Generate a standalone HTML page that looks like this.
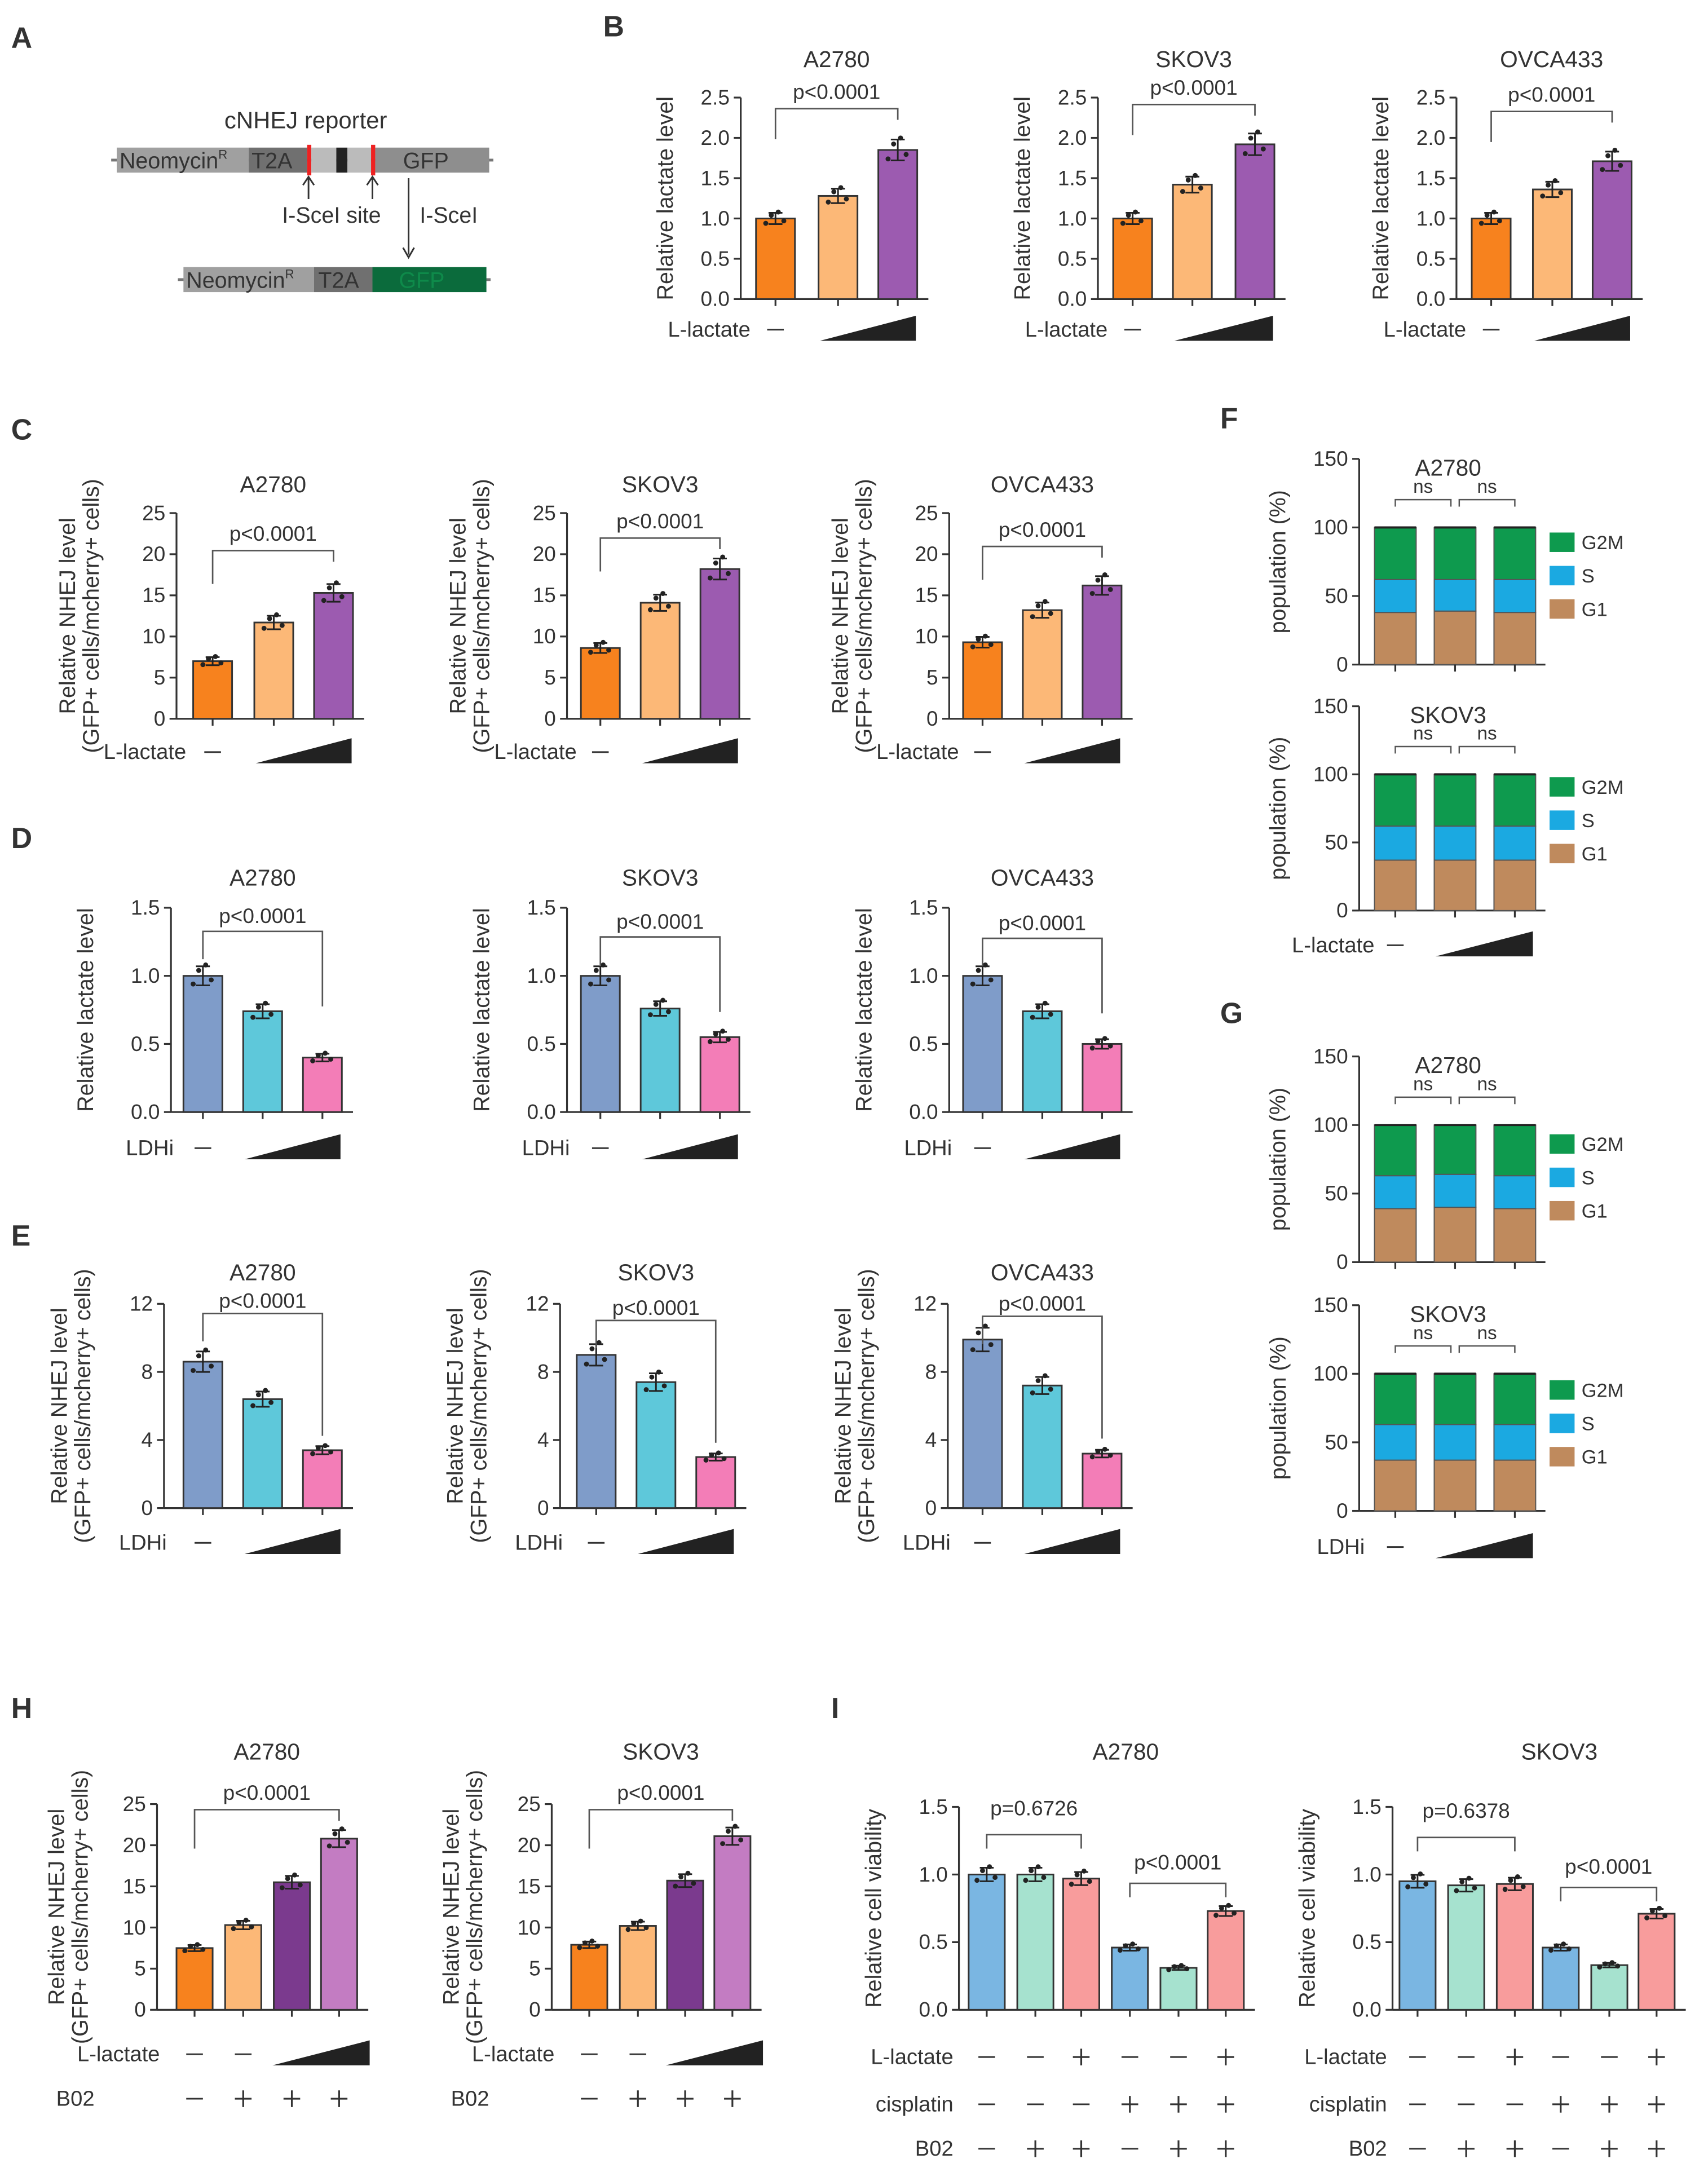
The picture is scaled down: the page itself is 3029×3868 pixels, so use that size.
<!DOCTYPE html>
<html><head><meta charset="utf-8"><style>
html,body{margin:0;padding:0;background:#fff}
svg{display:block}
text{font-family:"Liberation Sans",sans-serif;fill:#333}
</style></head><body>
<svg id="fig" width="3029" height="3868" viewBox="0 0 1229 1569" xmlns="http://www.w3.org/2000/svg">
<g>
<text x="220" y="92" font-size="17" text-anchor="middle">cNHEJ reporter</text>
<rect x="80" y="114" width="275" height="2" fill="#777"/>
<rect x="84" y="106" width="95" height="18" fill="#a0a0a0"/>
<rect x="179" y="106" width="42" height="18" fill="#707070"/>
<rect x="221" y="104" width="3" height="22" fill="#e22"/>
<rect x="224" y="106" width="18" height="18" fill="#bbb"/>
<rect x="242" y="106" width="8" height="18" fill="#222"/>
<rect x="250" y="106" width="17" height="18" fill="#bbb"/>
<rect x="267" y="104" width="3" height="22" fill="#e22"/>
<rect x="270" y="106" width="82" height="18" fill="#8e8e8e"/>
<text x="86" y="121" font-size="16">Neomycin<tspan font-size="9" dy="-7">R</tspan></text>
<text x="181" y="121" font-size="16">T2A</text>
<text x="290" y="121" font-size="16">GFP</text>
<path d="M222 143V128M218 133l4-6 4 6M268 143V128M264 133l4-6 4 6M294 128V183M290 178l4 7 4-7" stroke="#333" fill="none" stroke-width="1.2"/>
<text x="203" y="160" font-size="16">I-SceI site</text>
<text x="302" y="160" font-size="16">I-SceI</text>
<rect x="128" y="200" width="225" height="2" fill="#777"/>
<rect x="132" y="192" width="94" height="18" fill="#a0a0a0"/>
<rect x="226" y="192" width="42" height="18" fill="#707070"/>
<rect x="268" y="192" width="82" height="18" fill="#0b6b3c"/>
<text x="134" y="207" font-size="16">Neomycin<tspan font-size="9" dy="-7">R</tspan></text>
<text x="229" y="207" font-size="16">T2A</text>
<text x="287" y="207" font-size="16" style="fill:#0e8a4a">GFP</text>
</g>
<g id="plots"></g>
</svg>
<script>
// ---- data arrays ----
const bA2780=[1.0,1.28,1.85], bSKOV3=[1.0,1.42,1.92], bOVCA=[1.0,1.36,1.71];
const cA2780=[7.0,11.7,15.3], cSKOV3=[8.6,14.1,18.2], cOVCA=[9.3,13.2,16.2];
const dA2780=[1.0,0.74,0.40], dSKOV3=[1.0,0.76,0.55], dOVCA=[1.0,0.74,0.50];
const eA2780=[8.6,6.4,3.4], eSKOV3=[9.0,7.4,3.0], eOVCA=[9.9,7.2,3.2];
const fA2780G1=[38,39,38], fA2780S=[24,23,24], fA2780G2M=[38,38,38];
const fSKOV3G1=[37,37,37], fSKOV3S=[25,25,25], fSKOV3G2M=[38,38,38];
const gA2780G1=[39,40,39], gA2780S=[24,24,24], gA2780G2M=[37,36,37];
const gSKOV3G1=[37,37,37], gSKOV3S=[26,26,26], gSKOV3G2M=[37,37,37];
const hA2780=[7.5,10.3,15.5,20.8], hSKOV3=[7.9,10.2,15.7,21.1];
const iA2780=[1.0,1.0,0.97,0.46,0.31,0.73], iSKOV3=[0.95,0.92,0.93,0.46,0.33,0.71];
const ticksLac=["0.0","0.5","1.0","1.5","2.0","2.5"], ticks25=["0","5","10","15","20","25"];
const ticks15=["0.0","0.5","1.0","1.5"], ticks12=["0","4","8","12"], ticks150=["0","50","100","150"];

const NS="http://www.w3.org/2000/svg";
const root=document.getElementById('plots');
function mk(tag,attrs,parent,txt){const e=document.createElementNS(NS,tag);for(const k in attrs)e.setAttribute(k,attrs[k]);if(txt!==undefined)e.textContent=txt;(parent||root).appendChild(e);return e;}
function line(g,x1,y1,x2,y2,c,w){const l=mk('line',{x1,y1,x2,y2,stroke:c||'#333','stroke-width':w||1.3},g);

return l;}
function txt(g,x,y,s,size,anchor,rot){const t=mk('text',{x,y,'font-size':size||15,'text-anchor':anchor||'middle'},g,s);
if(rot)t.setAttribute('transform',`rotate(-90 ${x} ${y})`);

return t;}

const OB=['#f7821e','#fcb877','#9c5bb0'], DB=['#7f9cc9','#5ec8da','#f37db7'];
const HB=['#f7821e','#fcb877','#7b3a8e','#c37cc2'], IB=['#7ab6e2','#a6e2cf','#f89c9c','#7ab6e2','#a6e2cf','#f89c9c'];
const JX=[-7,-3,2,6,0], JY=[-0.06,0.04,0.08,-0.03,0.01];

function chart(o){
  const g=mk('g',{});  
  const ys=v=>o.y0-(v/o.max)*(o.y0-o.yTop);
  const n=o.ticks.length;
  line(g,o.ax,o.yTop,o.ax,o.y0);
  o.ticks.forEach((t,i)=>{const v=o.max*i/(n-1),y=ys(v);line(g,o.ax-5,y,o.ax,y);txt(g,o.ax-8,y+5,t,15,'end');});
  const last=o.xs[o.xs.length-1];
  line(g,o.ax,o.y0,last+o.w/2+8,o.y0);
  o.vals.forEach((v,i)=>{const x=o.xs[i];
    const r=mk('rect',{x:x-o.w/2,y:ys(v),width:o.w,height:o.y0-ys(v),fill:o.colors[i],stroke:'#333','stroke-width':1.2},g);
    
    
    line(g,x,o.y0,x,o.y0+5);
    const sd=v*(o.sd||0.07);
    line(g,x,ys(v+sd),x,ys(v-sd),'#222',1.2);line(g,x-5,ys(v+sd),x+5,ys(v+sd),'#222',1.2);line(g,x-5,ys(v-sd),x+5,ys(v-sd),'#222',1.2);
    for(let k=0;k<4;k++){const c=mk('circle',{cx:x+JX[k],cy:ys(v*(1+JY[k]*(o.sd||0.07)/0.07)),r:1.8,fill:'#222'},g);
      
      }
  });
  txt(g,o.tx||(o.xs[0]+last)/2,o.titleY,o.title,16.5);
  o.ylab.forEach((s,i)=>txt(g,o.ylx+i*17,(o.y0+o.yTop)/2,s,16,'middle',true));
  (o.brackets||[]).forEach(b=>{const x1=o.xs[b[0]],x2=o.xs[b[1]];
    const p=mk('path',{d:`M${x1} ${b[2]+b[3]}V${b[2]}H${x2}V${b[2]+b[4]}`,fill:'none',stroke:'#555','stroke-width':1.1},g);
    
    
    txt(g,(x1+x2)/2,b[2]-(b[6]||7),b[5],15);});
  return g;
}
function treat(g,label,lx,y,items){txt(g,lx,y+5,label,15.5,'end');
  items.forEach(it=>{if(it[0]==='-')line(g,it[1]-6,y,it[1]+6,y,'#333',1.2);
    else if(it[0]==='+'){line(g,it[1]-6,y,it[1]+6,y,'#333',1.3);line(g,it[1],y-6,it[1],y+6,'#333',1.3);}
    else {const p=mk('polygon',{points:`${it[1]},${y+8} ${it[2]},${y+8} ${it[2]},${y-10}`,fill:'#222'},g);
      
      }});}
function letter(s,x,y){const t=mk('text',{x,y,'font-size':21,'font-weight':'bold'},root,s);
  
  }
['A',8,34,'B',434,26,'C',8,316,'D',8,610,'E',8,896,'F',878,308,'G',878,736,'H',8,1236,'I',598,1236].reduce((a,v,i,arr)=>{if(i%3===0)letter(arr[i],arr[i+1],arr[i+2]);return a;},0);

// B
const NHEJ=['Relative NHEJ level','(GFP+ cells/mcherry+ cells)'];
[[533,[558,603,646],bA2780,78,'panel-b-a2780','A2780'],[790,[815,858,903],bSKOV3,75,'panel-b-skov3','SKOV3'],[1048,[1073,1117,1160],bOVCA,80,'panel-b-ovca433','OVCA433']].forEach(c=>{
  const g=chart({name:c[4],ax:c[0],y0:215,yTop:70,max:2.5,ticks:ticksLac,xs:c[1],vals:c[2],colors:OB,w:28,title:c[5],titleY:48,ylab:['Relative lactate level'],ylx:c[0]-49,brackets:[[0,2,c[3],22,8,'p<0.0001']]});
  treat(g,'L-lactate',c[0]+7,237,[['-',c[1][0]],['t',c[1][1]-13,c[1][2]+13]]);});
// C
[[127,[153,197,240],cA2780,'panel-c-a2780','A2780',396],[408,[432,475,518],cSKOV3,'panel-c-skov3','SKOV3',387],[683,[707,750,793],cOVCA,'panel-c-ovca433','OVCA433',393]].forEach(c=>{
  const g=chart({name:c[3],ax:c[0],y0:517,yTop:369,max:25,ticks:ticks25,xs:c[1],vals:c[2],colors:OB,w:28,title:c[4],titleY:354,ylab:NHEJ,ylx:c[0]-73,brackets:[[0,2,c[5],24,8,'p<0.0001']]});
  treat(g,'L-lactate',c[0]+7,541,[['-',c[1][0]],['t',c[1][1]-13,c[1][2]+13]]);});
// D
[[123,[146,189,232],dA2780,'panel-d-a2780','A2780',670],[408,[432,475,518],dSKOV3,'panel-d-skov3','SKOV3',674],[683,[707,750,793],dOVCA,'panel-d-ovca433','OVCA433',675]].forEach(c=>{
  const g=chart({name:c[3],ax:c[0],y0:800,yTop:653,max:1.5,ticks:ticks15,xs:c[1],vals:c[2],colors:DB,w:28,title:c[4],titleY:637,ylab:['Relative lactate level'],ylx:c[0]-56,brackets:[[0,2,c[5],20,54,'p<0.0001',6]]});
  treat(g,'LDHi',c[0]+2,826,[['-',c[1][0]],['t',c[1][1]-13,c[1][2]+13]]);});
// E
[[118,[146,189,232],eA2780,'panel-e-a2780','A2780',945],[403,[429,472,515],eSKOV3,'panel-e-skov3','SKOV3',950],[682,[707,750,793],eOVCA,'panel-e-ovca433','OVCA433',947]].forEach(c=>{
  const g=chart({name:c[3],ax:c[0],y0:1085,yTop:938,max:12,ticks:ticks12,xs:c[1],vals:c[2],colors:DB,w:28,title:c[4],titleY:921,ylab:NHEJ,ylx:c[0]-70,brackets:[[0,2,c[5],20,88,'p<0.0001',4]]});
  treat(g,'LDHi',c[0]+2,1110,[['-',c[1][0]],['t',c[1][1]-13,c[1][2]+13]]);});
// F, G stacked
const SC=['#bf8a5d','#1ba9e1','#0e9a4e'];
function stacked(name,title,y0,yTop,G1,S,G2M,legY){
  const g=mk('g',{});
  const ax=978,xs=[1004,1047,1090],w=30,max=150,ys=v=>y0-(v/max)*(y0-yTop);
  line(g,ax,yTop,ax,y0);
  ticks150.forEach((t,i)=>{const y=ys(50*i);line(g,ax-5,y,ax,y);txt(g,ax-8,y+5,t,15,'end');});
  line(g,ax,y0,1112,y0);
  xs.forEach((x,i)=>{let base=0;[G1[i],S[i],G2M[i]].forEach((v,k)=>{
    const r=mk('rect',{x:x-w/2,y:ys(base+v),width:w,height:ys(base)-ys(base+v),fill:SC[k],stroke:'#555','stroke-width':0.8},g);
    
    base+=v;});
    line(g,x-w/2,ys(base),x+w/2,ys(base),'#222',1.6);line(g,x,y0,x,y0+5);});
  txt(g,1042,yTop+12,title,16.5);
  const by=ys(100)-20;
  [[0,1],[1,2]].forEach((p,j)=>{const x1=xs[p[0]]+(j?3:0),x2=xs[p[1]]-(j?0:3);
    const pa=mk('path',{d:`M${x1} ${by+5}V${by}H${x2}V${by+5}`,fill:'none',stroke:'#555','stroke-width':1},g);
    
    
    txt(g,(x1+x2)/2,by-5,'ns',13.5);});
  txt(g,925,(y0+yTop)/2,'population (%)',16,'middle',true);
  ['G2M','S','G1'].forEach((s,k)=>{const r=mk('rect',{x:1115,y:legY[k]-7,width:18,height:14,fill:SC[2-k]},g);
    
    
    txt(g,1138,legY[k]+5,s,14,'start');});
  return g;}
stacked('panel-f-a2780','A2780',478,330,fA2780G1,fA2780S,fA2780G2M,[390,414,438]);
const gf=stacked('panel-f-skov3','SKOV3',655,508,fSKOV3G1,fSKOV3S,fSKOV3G2M,[566,590,614]);
treat(gf,'L-lactate',989,680,[['-',1004],['t',1033,1103]]);
stacked('panel-g-a2780','A2780',908,760,gA2780G1,gA2780S,gA2780G2M,[823,847,871]);
const gg=stacked('panel-g-skov3','SKOV3',1087,939,gSKOV3G1,gSKOV3S,gSKOV3G2M,[1000,1024,1048]);
treat(gg,'LDHi',982,1113,[['-',1004],['t',1033,1103]]);
// H
[[113,[140,175,210,244],hA2780,'panel-h-a2780','A2780'],[397,[424,459,493,527],hSKOV3,'panel-h-skov3','SKOV3']].forEach(c=>{
  const g=chart({name:c[3],ax:c[0],y0:1446,yTop:1298,max:25,ticks:ticks25,xs:c[1],vals:c[2],colors:HB,w:26,sd:0.05,title:c[4],titleY:1266,ylab:NHEJ,ylx:c[0]-67,brackets:[[0,3,1302,28,8,'p<0.0001']]});
  treat(g,'L-lactate',c[0]+2,1478,[['-',c[1][0]],['-',c[1][1]],['t',c[1][2]-14,c[1][3]+22]]);
  treat(g,'B02',c[0]-45,1510,[['-',c[1][0]],['+',c[1][1]],['+',c[1][2]],['+',c[1][3]]]);});
// I
[[690,[710,745,778,813,848,882],iA2780,'panel-i-a2780','A2780',1320,1355,'p=0.6726'],[1002,[1020,1055,1090,1123,1158,1192],iSKOV3,'panel-i-skov3','SKOV3',1322,1358,'p=0.6378']].forEach(c=>{
  const g=chart({name:c[3],ax:c[0],y0:1446,yTop:1300,max:1.5,ticks:ticks15,xs:c[1],vals:c[2],colors:IB,w:26,sd:0.05,title:c[4],titleY:1266,ylab:['Relative cell viability'],ylx:c[0]-56,tx:c[0]+120,brackets:[[0,2,c[5],10,10,c[7],14],[3,5,c[6],10,10,'p<0.0001',10]]});
  const X=c[1];
  treat(g,'L-lactate',c[0]-4,1480,[['-',X[0]],['-',X[1]],['+',X[2]],['-',X[3]],['-',X[4]],['+',X[5]]]);
  treat(g,'cisplatin',c[0]-4,1514,[['-',X[0]],['-',X[1]],['-',X[2]],['+',X[3]],['+',X[4]],['+',X[5]]]);
  treat(g,'B02',c[0]-4,1546,[['-',X[0]],['+',X[1]],['+',X[2]],['-',X[3]],['+',X[4]],['+',X[5]]]);});
</script>
</body></html>
